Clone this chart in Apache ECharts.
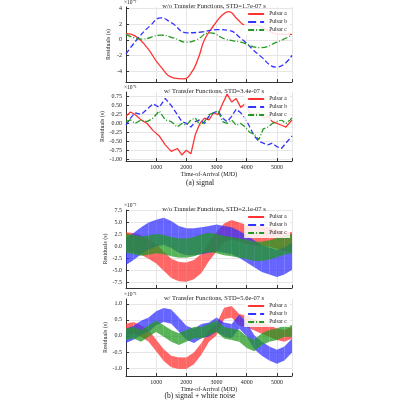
<!DOCTYPE html>
<html><head><meta charset="utf-8">
<script src="https://cdn.jsdelivr.net/npm/echarts@6/dist/echarts.min.js"></script>
<style>html,body{margin:0;background:#fff}#c{width:400px;height:400px}</style>
</head><body><div id="c"></div>
<script>
// Panel 1 (x1e-7 s), smooth signal
const x1 = [0,300,700,1100,1600,1900,2150,2400,2600,2900,3200,3400,3700,3950,4300,4700,5100,5500];
const p1a = [0.8,0.5,-1.0,-3.2,-4.9,-5.0,-4.3,-2.3,0,1.8,3.2,3.6,2.6,1.9,1.9,1.2,0.7,0.7];
const x1b = [0,400,800,1150,1500,2030,2500,3030,3400,3800,4430,5000,5500];
const p1b = [-1.8,0.2,1.8,2.8,2.2,0.9,1.0,1.3,1.2,0.2,-2.0,-3.5,-2.0];
const x1c = [0,530,1150,1600,2000,2330,2780,3280,3800,4450,5000,5500];
const p1c = [0.7,0.1,0.6,0.2,-0.3,0,0.9,0.1,-0.3,-1.0,-0.3,0.6];
// Panel 2 (x1e-6 s)
const x2 = [0,150,300,500,700,900,1100,1300,1500,1700,1850,2000,2150,2300,2450,2600,2750,2900,3050,3200,3350,3500,3650,3800,3950,4100,4250,4400,4550,4700,4850,5000,5150,5300,5500];
const p2a = [0.2,0.32,0.25,0.1,0.0,-0.2,-0.35,-0.6,-0.78,-0.7,-0.88,-0.75,-0.85,-0.3,0.0,0.15,0.1,0.3,0.25,0.55,0.82,0.6,0.7,0.45,0.55,0.3,0.25,0.3,0.15,0.2,0.05,0.0,-0.05,-0.1,0.1];
const p2b = [-0.05,0.15,0.3,0.25,0.4,0.55,0.45,0.7,0.5,0.25,0.05,0.0,-0.1,0.05,0.1,0.0,0.2,0.3,0.35,0.15,0.05,0.2,0.4,0.3,0.15,-0.1,-0.35,-0.5,-0.55,-0.6,-0.55,-0.65,-0.7,-0.55,-0.35];
const p2c = [0.05,0.1,0.0,0.1,0.05,0.15,0.35,0.1,0.05,-0.1,0.0,-0.05,0.1,0.15,-0.05,0.05,0.25,0.3,0.35,0.05,0.0,0.1,-0.05,0.0,-0.1,-0.25,-0.3,-0.45,-0.15,-0.1,0.0,0.05,0.1,0.0,0.15];
// Panels 3 & 4: noisy bands (centre and half-width)
const x3 = [0,250,500,750,1000,1250,1500,1750,2000,2250,2500,2750,3000,3250,3500,3750,4000,4250,4500,4750,5000,5250,5500];
const p3aMid = [1,0.8,0.3,-0.5,-1.5,-3,-4.5,-5.2,-5.3,-4.8,-3.5,-1,1,2.8,3.5,3,2.5,2.3,2.2,2,1.5,1,1];
const p3bMid = [-1,0,1.2,2.2,2.8,3.2,2.5,1.5,1,1,1.2,1.5,1.8,1.5,1.2,0.5,-0.5,-1.5,-2.5,-3,-3.5,-3,-2];
const p3cMid = [0.7,0.4,0.1,0.3,0.6,0.4,0,-0.3,-0.3,0,0.5,0.9,0.6,0.2,0,-0.3,-0.6,-1,-1,-0.7,-0.2,0.3,0.6];
const p3Half = [2.0,2.8,2.0];
const p4aMid = [0.2,0.25,0.15,0,-0.3,-0.6,-0.8,-0.85,-0.85,-0.7,-0.4,0,0.2,0.7,0.75,0.5,0.45,0.35,0.25,0.15,0.05,0,0.1];
const p4bMid = [0,0.1,0.25,0.35,0.55,0.65,0.6,0.35,0.1,0,0.15,0.2,0.35,0.2,0.15,0.45,0.2,-0.2,-0.4,-0.55,-0.65,-0.55,-0.3];
const p4cMid = [0.05,0.1,0,0.15,0.3,0.15,0,-0.1,0,0.1,0.1,0.2,0.3,0.1,0.05,0,-0.2,-0.3,-0.1,0,0.05,0.15,0.15];
const p4Half = [0.18,0.22,0.18];
const yTicks = [[-4,-2,0,2,4],[-1,-0.75,-0.5,-0.25,0,0.25,0.5,0.75],[-7.5,-5,-2.5,0,2.5,5,7.5],[-1,-0.5,0,0.5,1]];
const names = ['Pulsar a','Pulsar b','Pulsar c'];
const cols = ['#ff3333','#3333ff','#229922'];
const FONT = 'Liberation Serif';
const titles = ['w/o Transfer Functions, STD=1.7e-07 s','w/ Transfer Functions, STD=3.4e-07 s','w/o Transfer Functions, STD=2.1e-07 s','w/ Transfer Functions, STD=5.6e-07 s'];
const mult = ['×10⁻⁷','×10⁻⁶','×10⁻⁷','×10⁻⁶'];
const tops = [7,92,210,299], hs = [75,69,78,77];
const yr = [[-5.4,4.2,0],[-1.05,0.88,2],[-8.6,7.6,1],[-1.25,1.15,1]];
const pair = (xs,ys)=>xs.map((x,i)=>[x,ys[i]]);
const band = (mid,h)=>x3.map((x,i)=>[x,mid[i]-h,mid[i]+h]);

const grid=[],xAxis=[],yAxis=[],series=[],title=[],graphic=[],legend=[];
for(let g=0;g<4;g++){
  grid.push({left:126,width:166,top:tops[g],height:hs[g]});
  const showX = g===1||g===3;
  xAxis.push({type:'value',gridIndex:g,min:0,max:5500,interval:1000,
    axisLine:{onZero:false,lineStyle:{color:'#333'}},axisTick:{inside:true,length:3},
    axisLabel:{show:showX,fontSize:6,margin:3,fontFamily:FONT,color:'#222',formatter:v=>(v===0||v===5500)?'':v},
    splitLine:{show:true,lineStyle:{color:'#e6e6e6'}},
    name:showX?'Time-of-Arrival (MJD)':'',nameLocation:'middle',nameGap:10,nameTextStyle:{fontSize:6,fontFamily:FONT,color:'#222'}});
  const r=yr[g];
  yAxis.push({type:'value',gridIndex:g,min:r[0],max:r[1],
    axisLine:{show:true,onZero:false,lineStyle:{color:'#333'}},
    axisLabel:{fontSize:6,margin:4,fontFamily:FONT,color:'#222',customValues:yTicks[g],formatter:v=>v.toFixed(r[2])},
    axisTick:{inside:true,length:3,customValues:yTicks[g]},
    splitLine:{show:true,lineStyle:{color:'#e6e6e6'}},
    name:'Residuals (s)',nameLocation:'middle',nameGap:g===1?21:15,nameTextStyle:{fontSize:6,fontFamily:FONT,color:'#222'}});
  title.push({text:titles[g],left:209,textAlign:'center',top:tops[g]-9,textStyle:{fontSize:6.5,fontWeight:'normal',fontFamily:FONT,color:'#222'}});
  graphic.push({type:'text',left:124,top:tops[g]-7,style:{text:mult[g],fontSize:5.5,fontFamily:FONT,fill:'#222'}});
  legend.push({top:tops[g]+2,right:110,orient:'vertical',itemWidth:16,itemHeight:5,itemGap:2,padding:[2,3,2,3],
    itemStyle:{opacity:0},
    textStyle:{fontSize:5.5,fontFamily:FONT,color:'#222'},data:names,backgroundColor:'rgba(255,255,255,0.85)'});
}
const types=['solid','dashed',[6,2,1,2]];
[[x1,p1a],[x1b,p1b],[x1c,p1c]].forEach((d,i)=>series.push({type:'line',name:names[i],xAxisIndex:0,yAxisIndex:0,smooth:0.5,symbol:'none',data:pair(d[0],d[1]),lineStyle:{color:cols[i],width:1.3,type:types[i]},itemStyle:{color:cols[i]}}));
[p2a,p2b,p2c].forEach((d,i)=>series.push({type:'line',name:names[i],xAxisIndex:1,yAxisIndex:1,symbol:'none',data:pair(x2,d),lineStyle:{color:cols[i],width:1.3,type:types[i]},itemStyle:{color:cols[i]}}));
function bandSeries(g,data,col){
  return {type:'custom',xAxisIndex:g,yAxisIndex:g,data:data,silent:true,
    renderItem:(params,api)=>{
      const i=params.dataIndex; if(i>=data.length-1) return null;
      const a=data[i],b=data[i+1];
      return {type:'polygon',shape:{points:[api.coord([a[0],a[1]]),api.coord([b[0],b[1]]),api.coord([b[0],b[2]]),api.coord([a[0],a[2]])]},
        style:{fill:col,opacity:0.75}};
    },clip:true};
}
[p3aMid,p3bMid,p3cMid].forEach((m,i)=>series.push(bandSeries(2,band(m,p3Half[i]),cols[i])));
[p4aMid,p4bMid,p4cMid].forEach((m,i)=>series.push(bandSeries(3,band(m,p4Half[i]),cols[i])));
graphic.push({type:'text',left:'center',top:179,style:{text:'(a) signal',fontSize:7.5,fontFamily:FONT,fill:'#222'}});
graphic.push({type:'text',left:'center',top:392,style:{text:'(b) signal + white noise',fontSize:7.5,fontFamily:FONT,fill:'#222'}});
echarts.init(document.getElementById('c')).setOption({animation:false,backgroundColor:'#fff',grid,xAxis,yAxis,series,title,graphic,legend});
</script></body></html>
